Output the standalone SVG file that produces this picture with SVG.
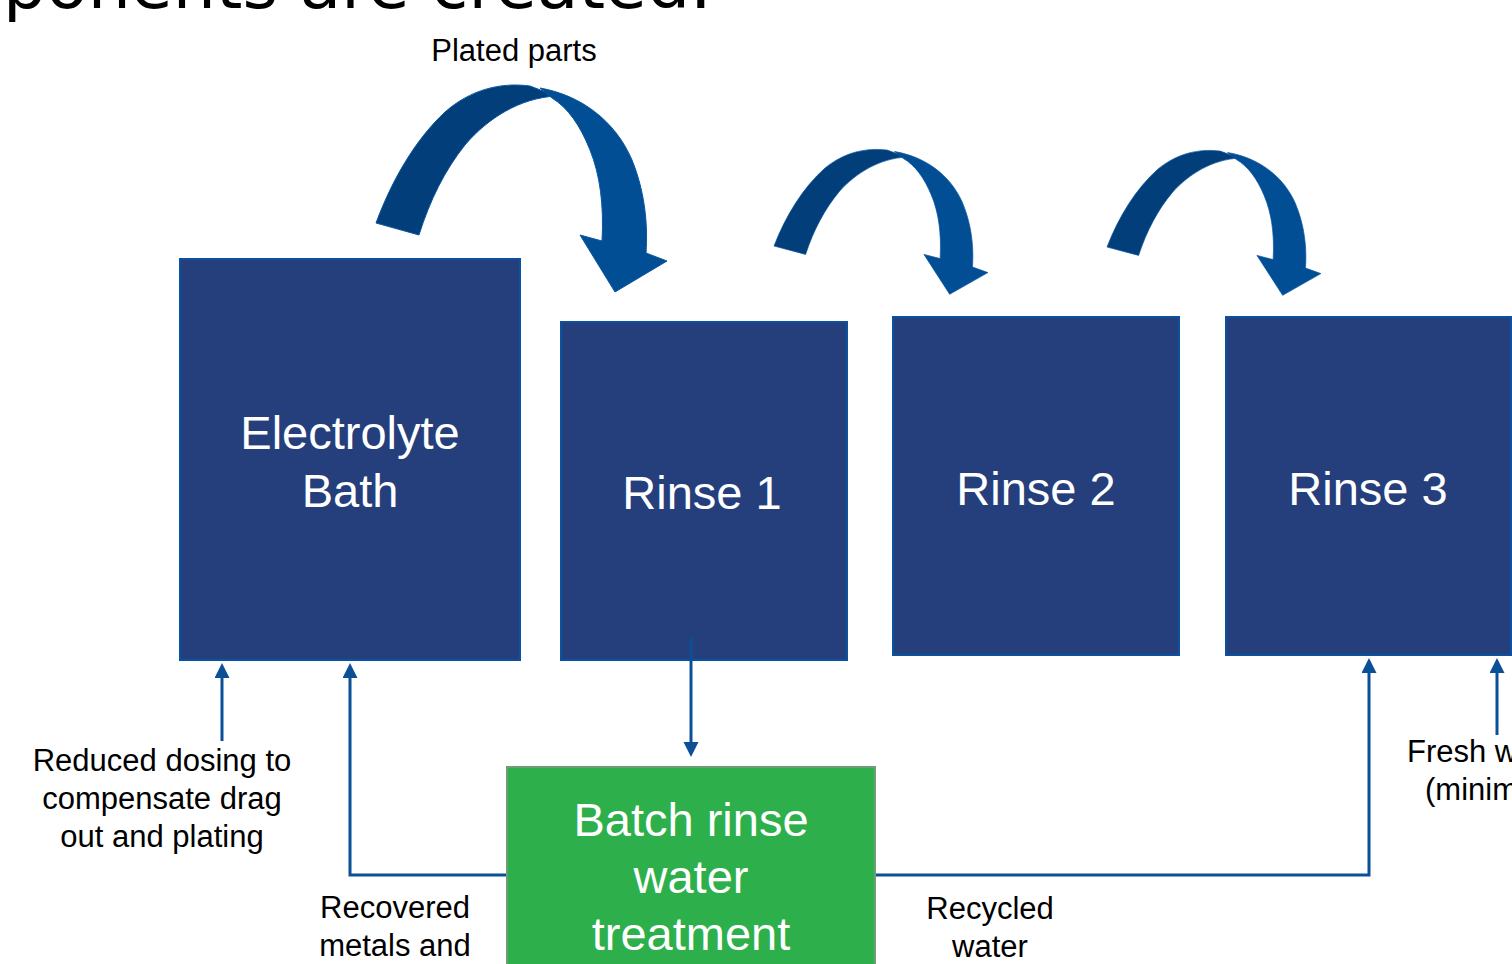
<svg xmlns="http://www.w3.org/2000/svg" width="1512" height="964" viewBox="0 0 1512 964">
<style>
.box{fill:#253e7c;stroke:#0a52a0;stroke-width:2}
.green{fill:#2db04b;stroke:#6d9e76;stroke-width:2}
.wt{fill:#ffffff;font-family:"Liberation Sans",Arial,sans-serif;font-size:47px;text-anchor:middle}
.lb{fill:#000000;font-family:"Liberation Sans",Arial,sans-serif;font-size:31px;text-anchor:middle}
.conn{fill:none;stroke:#0b4f96;stroke-width:3}
.back{fill:#023f7a;stroke:#0b56a0;stroke-width:1}
.front{fill:#024e94;stroke:#0b56a0;stroke-width:1}
</style>
<defs>
<marker id="ah" markerUnits="userSpaceOnUse" markerWidth="16" markerHeight="16" refX="1" refY="7.5" orient="auto">
<path d="M0,0 L15,7.5 L0,15 Z" fill="#0b4f96"/>
</marker>
<g id="curl">
<path class="back" d="M376,223 C392,180 415,140 445,112 C470,90 500,82 530,86 L556,96 C520,98 488,118 465,145 C445,170 430,200 419,235 Z"/>
<path class="front" d="M540,88 C580,95 615,120 632,160 C645,192 648,225 646,253 L667,261 L615,292 L580,235 L602,241 C604,205 600,175 590,150 C580,125 568,108 552,98 Z"/>
</g>
</defs>
<rect width="1512" height="964" fill="#ffffff"/>
<text x="3" y="8" font-family="DejaVu Sans,sans-serif" font-size="68" fill="#000000">ponents are created.</text>
<g id="transfer-arrows">
<use href="#curl"/>
<use href="#curl" transform="translate(774,246) scale(0.735,0.70) translate(-376,-223)"/>
<use href="#curl" transform="translate(1107,247) scale(0.735,0.70) translate(-376,-223)"/>
</g>
<text class="lb" x="514" y="61">Plated parts</text>
<g id="connectors">
<path class="conn" d="M222,741 L222,677" marker-end="url(#ah)"/>
<path class="conn" d="M507,875 L350,875 L350,677" marker-end="url(#ah)"/>
<path class="conn" d="M691,638 L691,743" marker-end="url(#ah)"/>
<path class="conn" d="M875,875 L1369,875 L1369,672" marker-end="url(#ah)"/>
<path class="conn" d="M1497,735 L1497,672" marker-end="url(#ah)"/>
</g>
<g id="electrolyte-bath">
<rect class="box" x="180" y="259" width="340" height="401"/>
<text class="wt" x="350" y="449">Electrolyte</text>
<text class="wt" x="350" y="507">Bath</text>
</g>
<g id="rinse-1">
<rect class="box" x="561" y="322" width="286" height="338"/>
<text class="wt" x="702" y="509">Rinse 1</text>
</g>
<path class="conn" d="M691,638 L691,660"/>
<g id="rinse-2">
<rect class="box" x="893" y="317" width="286" height="338"/>
<text class="wt" x="1036" y="505">Rinse 2</text>
</g>
<g id="rinse-3">
<rect class="box" x="1226" y="317" width="285" height="338"/>
<text class="wt" x="1368" y="505">Rinse 3</text>
</g>
<g id="batch-treatment">
<rect class="green" x="507" y="767" width="368" height="210"/>
<text class="wt" x="691" y="836">Batch rinse</text>
<text class="wt" x="691" y="893">water</text>
<text class="wt" x="691" y="950">treatment</text>
</g>
<g id="labels">
<text class="lb" x="162" y="771">Reduced dosing to</text>
<text class="lb" x="162" y="809">compensate drag</text>
<text class="lb" x="162" y="847">out and plating</text>
<text class="lb" x="395" y="918">Recovered</text>
<text class="lb" x="395" y="956">metals and</text>
<text class="lb" x="990" y="919">Recycled</text>
<text class="lb" x="990" y="957">water</text>
<text class="lb" x="1407" y="762" style="text-anchor:start">Fresh w</text>
<text class="lb" x="1425" y="800" style="text-anchor:start">(minim</text>
</g>
</svg>
